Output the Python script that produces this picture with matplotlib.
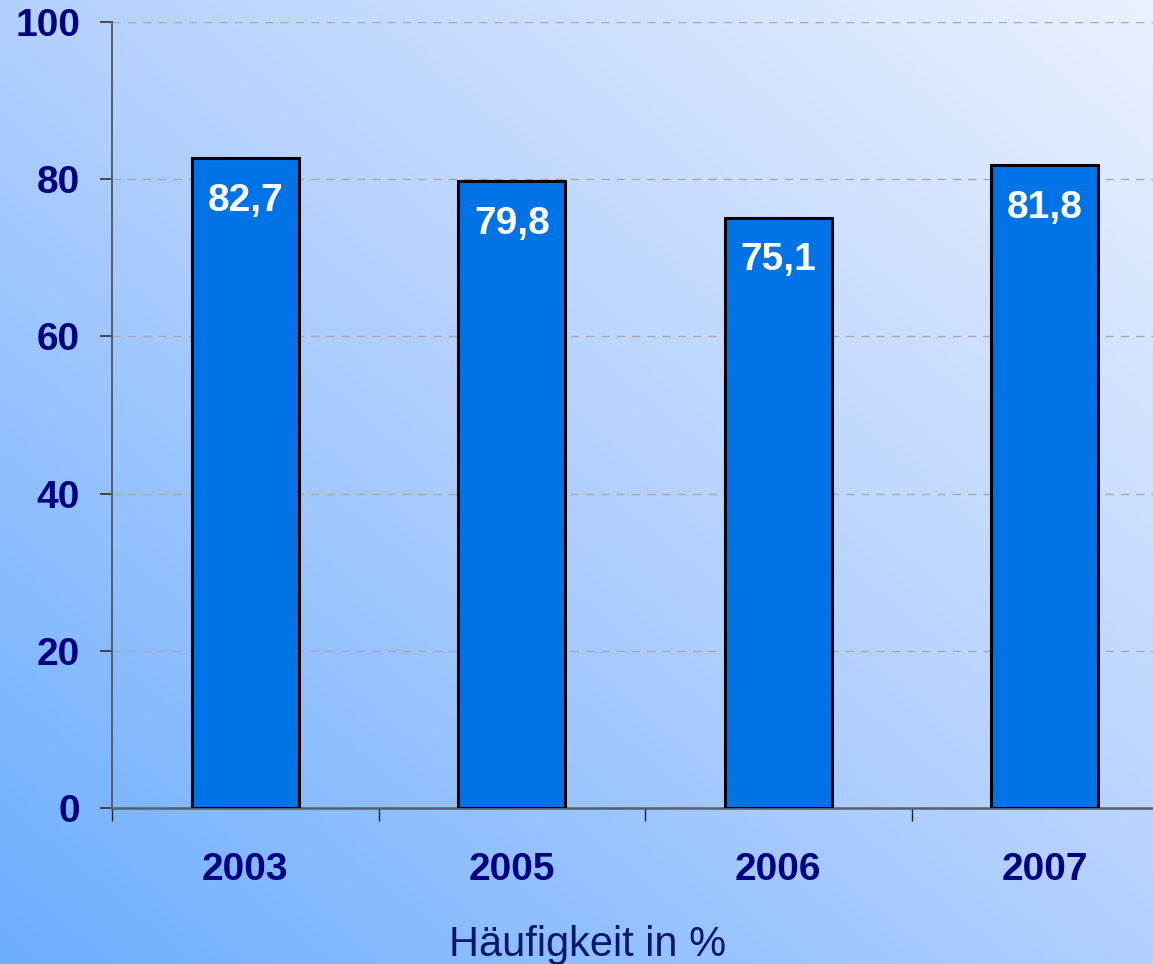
import numpy as np
import matplotlib
matplotlib.use("Agg")
import matplotlib.pyplot as plt
from matplotlib import font_manager as fm
from matplotlib.colors import LinearSegmentedColormap

categories = ["2003", "2005", "2006", "2007"]
values = [82.7, 79.8, 75.1, 81.8]
value_labels = ["82,7", "79,8", "75,1", "81,8"]
yticks = [0, 20, 40, 60, 80, 100]
xlabel = "Häufigkeit in %"


def find_font(bold):
    for f in fm.fontManager.ttflist:
        if f.name == 'Liberation Sans' and 'Narrow' not in f.fname and f.style == 'normal':
            w = f.weight if isinstance(f.weight, int) else (700 if f.weight == 'bold' else 400)
            if (w >= 600) == bold:
                return fm.FontProperties(fname=f.fname)
    return fm.FontProperties(family='DejaVu Sans', weight='bold' if bold else 'normal')


fp_bold = find_font(True)
fp_reg = find_font(False)

W, H = 1153, 964
fig = plt.figure(figsize=(W / 100, H / 100), dpi=100)

# gradient background
bg = fig.add_axes([0, 0, 1, 1], zorder=0)
bg.axis('off')
gx, gy = np.meshgrid(np.linspace(0, 1, 300), np.linspace(0, 1, 300))
t = (gx + gy) / 2
cmap = LinearSegmentedColormap.from_list(
    'bgc', [(0.0, '#6caeff'), (0.5, '#b2d0fe'), (1.0, '#eaf1fe')])
bg.imshow(t, cmap=cmap, origin='lower', extent=[0, 1, 0, 1], aspect='auto', vmin=0, vmax=1)
bg.set_xlim(0, 1); bg.set_ylim(0, 1)

left = 112 / W
bottom = (H - 808) / H
top = (H - 22) / H
ax = fig.add_axes([left, bottom, 1 - left, top - bottom], zorder=1)
ax.patch.set_alpha(0)

x = np.arange(len(categories))
spacing = 266.5
ax.set_xlim(-0.5, -0.5 + (W - 112) / spacing)
ax.set_ylim(0, 100)

ax.bar(x, values, width=0.4, color='#0073e6', edgecolor='black', linewidth=2.2, zorder=3)

navy = '#000080'
FS = 28
for xi, v, lab in zip(x, values, value_labels):
    t_ = ax.annotate(lab, (xi, v), xytext=(0, -38), textcoords='offset points',
                     ha='center', va='baseline', color='white', zorder=4,
                     fontproperties=fp_bold)
    t_.set_fontsize(FS)

ax.set_yticks(yticks)
ax.set_yticklabels([str(v) for v in yticks], color=navy)
ax.set_xticks(x)
ax.set_xticklabels(categories, color=navy)
for lab in ax.get_yticklabels() + ax.get_xticklabels():
    lab.set_fontproperties(fp_bold)
    lab.set_fontsize(FS)
ax.set_xticks(np.arange(len(categories)) - 0.5, minor=True)
ax.tick_params(axis='x', which='major', length=0, pad=32)
ax.tick_params(axis='x', which='minor', length=9, width=1, color='#222222', direction='out')
ax.tick_params(axis='y', which='major', length=9, width=1.2, color='#333333', pad=14)

for yv in yticks[1:]:
    ax.axhline(yv, color='#a8a8a8', linewidth=1, linestyle=(0, (6, 5)), zorder=1)

for s in ['top', 'right']:
    ax.spines[s].set_visible(False)
ax.spines['left'].set_color('#555f6a')
ax.spines['bottom'].set_color('#555f6a')
ax.spines['left'].set_linewidth(1.4)
ax.spines['bottom'].set_linewidth(1.8)

xl = fig.text(588 / W, (H - 956) / H, xlabel, ha='center', va='baseline',
              color='#0a1670', fontproperties=fp_reg)
xl.set_fontsize(30)

fig.savefig('out.png', dpi=100)
